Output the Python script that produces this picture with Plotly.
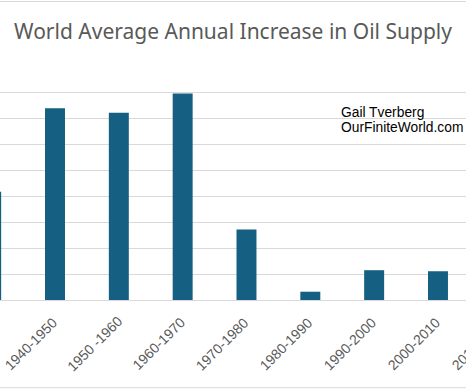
import plotly.graph_objects as go

# ---- data (one gridline = 1 percentage point) ----
periods = ["1930-1940", "1940-1950", "1950 -1960", "1960-1970", "1970-1980",
           "1980-1990", "1990-2000", "2000-2010", "2010-2020"]
increase_pct = [4.18, 7.40, 7.23, 7.97, 2.72, 0.32, 1.15, 1.11, None]
title_text = "World Average Annual Increase in Oil Supply"
credit_lines = ["Gail Tverberg", "OurFiniteWorld.com"]

# ---- layout constants ----
W, H = 466, 389
M_T, M_B = 66, 89
Y_TOP = 9.03
STEP_PX = 63.83          # pixel distance between category centres
FIRST_VISIBLE_PX = 55.0  # centre of the 2nd category in pixels
x0 = 1 - FIRST_VISIBLE_PX / STEP_PX
x1 = x0 + W / STEP_PX
plot_h = H - M_T - M_B

BAR = "#156082"
GRID = "#d9d9d9"
TXT = "#595959"
LABEL_SIZE = 14
LABEL_DX, LABEL_DY = -24.5, -43.5   # centre of a rotated label relative to its tick

fig = go.Figure(go.Bar(
    x=list(range(len(periods))), y=increase_pct,
    marker=dict(color=BAR, line=dict(width=0)),
    hoverinfo="skip",
))

fig.update_layout(
    width=W, height=H,
    margin=dict(l=0, r=0, t=M_T, b=M_B, pad=0, autoexpand=False),
    paper_bgcolor="white", plot_bgcolor="white",
    bargap=0.687,
    showlegend=False,
    title=dict(text=title_text, x=0.5, xanchor="center", xref="paper",
               y=1 - 32 / H, yanchor="middle", yref="container",
               font=dict(family="Noto Sans", size=21, color=TXT)),
    font=dict(family="Liberation Sans", color=TXT),
)

fig.update_xaxes(
    range=[x0, x1], automargin=False, showticklabels=False,
    showgrid=False, zeroline=False,
    showline=True, linecolor=GRID, linewidth=1, ticks="",
)
fig.update_yaxes(
    range=[0, Y_TOP], dtick=1, showticklabels=False, automargin=False,
    showgrid=True, gridcolor=GRID, gridwidth=1,
    zeroline=False, showline=False,
)

# category labels, rotated 45 degrees, placed at each category position
for i, lab in enumerate(periods):
    frac = (i - x0) / (x1 - x0)
    if frac < 0:
        continue  # its label lies entirely off the left edge
    fig.add_annotation(
        text=lab, xref="paper", yref="paper",
        x=frac, y=0, xshift=LABEL_DX, yshift=LABEL_DY,
        xanchor="center", yanchor="middle", textangle=-45, showarrow=False,
        font=dict(family="Liberation Sans", size=LABEL_SIZE, color=TXT),
    )

# credit text
for i, line in enumerate(credit_lines):
    fig.add_annotation(
        text=line, xref="paper", yref="paper",
        x=339 / W, y=(H - M_B - (113 + 14.5 * i)) / plot_h,
        xanchor="left", yanchor="middle", showarrow=False,
        font=dict(family="Liberation Sans", size=13.8, color="#000000"),
    )

# chart frame edges (top and bottom)
for py in (1.5, 387.7):
    yp = (H - M_B - py) / plot_h
    fig.add_shape(type="line", xref="paper", yref="paper",
                  x0=0, x1=1, y0=yp, y1=yp,
                  line=dict(color=GRID, width=1))

fig.write_html("out.html",
               config={"displayModeBar": False, "staticPlot": True},
               post_script="document.body.style.margin='0';"
                           "document.body.style.overflow='hidden';")
